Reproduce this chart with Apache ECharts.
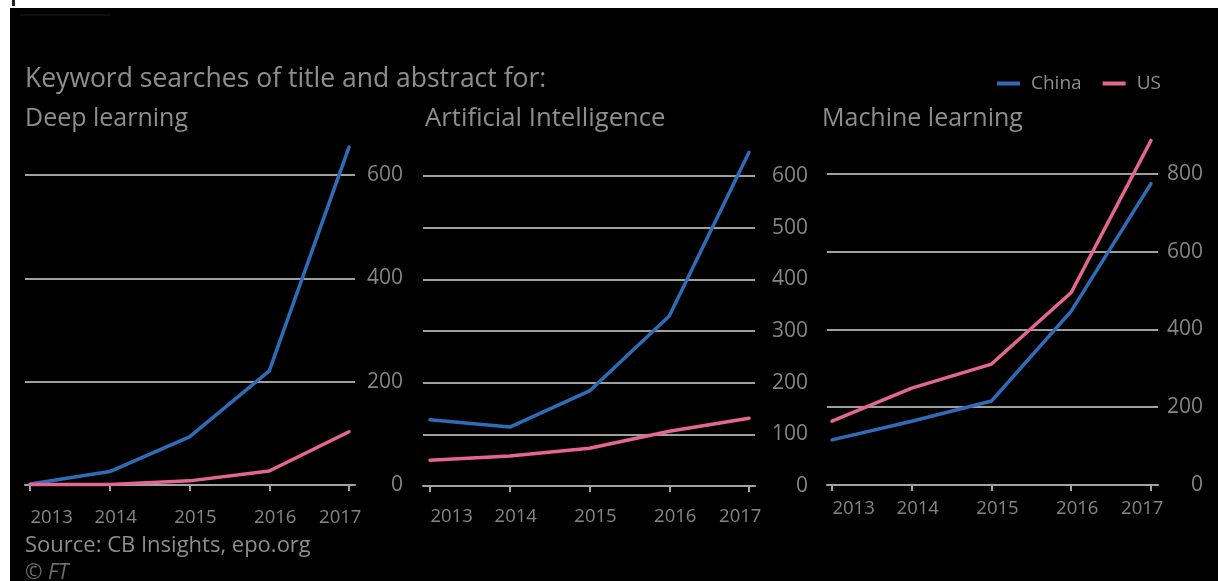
<!DOCTYPE html>
<html>
<head>
<meta charset="utf-8">
<script src="https://cdn.jsdelivr.net/npm/echarts@6/dist/echarts.min.js"></script>
<style>
  html, body { margin: 0; padding: 0; background: #fff; }
  #chart { width: 1218px; height: 581px; }
</style>
</head>
<body>
<div id="chart"></div>
<script>
// Years on the x axis
const years = [2013, 2014, 2015, 2016, 2017];

// Panel headings
const panelTitles = ['Deep learning', 'Artificial Intelligence', 'Machine learning'];

// Keyword hits per year, China vs US
const deepChina = [2, 26, 93, 221, 654];
const deepUS = [1, 1, 8, 27, 103];
const aiChina = [128, 114, 184, 329, 646];
const aiUS = [50, 58, 73, 106, 131];
const mlChina = [116, 164, 216, 447, 775];
const mlUS = [164, 249, 311, 495, 886];

// Y tick steps per panel
const deepTicks = [0, 200, 400, 600];
const aiTicks = [0, 100, 200, 300, 400, 500, 600];
const mlTicks = [0, 200, 400, 600, 800];

const FONT = '"Open Sans", "Noto Sans", sans-serif';
const TEXT = '#8e8e8e';
const TICKTEXT = '#858585';
const BLUE = '#2f6cb8';
const PINK = '#e5668f';

// small horizontal nudges so the year labels sit like the print layout
const labelNudge = [0.27, 0.075, 0.075, 0.075, -0.11];

const panels = [
  { title: panelTitles[0], china: deepChina, us: deepUS, ticks: deepTicks, max: 660,
    grid: { left: 25, width: 330, top: 144, height: 341 },
    xMin: 2012.937, xMax: 2017.075, labelMargin: 23, yMargin: 48, titleLeft: 25, titleSize: 25 },
  { title: panelTitles[1], china: aiChina, us: aiUS, ticks: aiTicks, max: 660,
    grid: { left: 423, width: 332, top: 145, height: 341 },
    xMin: 2012.912, xMax: 2017.075, labelMargin: 21, yMargin: 53, titleLeft: 425, titleSize: 25.7 },
  { title: panelTitles[2], china: mlChina, us: mlUS, ticks: mlTicks, max: 900,
    grid: { left: 827, width: 331, top: 135, height: 350 },
    xMin: 2012.937, xMax: 2017.088, labelMargin: 14, yMargin: 45, titleLeft: 822, titleSize: 25 }
];

const grids = [], xAxes = [], yAxes = [], series = [];
const titles = [{
  text: 'Keyword searches of title and abstract for:',
  left: 25, top: 66, padding: 0,
  textStyle: { fontFamily: FONT, fontSize: 26.5, fontWeight: 'normal', color: TEXT }
}];

panels.forEach((p, i) => {
  grids.push(Object.assign({ containLabel: false }, p.grid));
  titles.push({
    text: p.title, left: p.titleLeft, top: 106, padding: 0,
    textStyle: { fontFamily: FONT, fontSize: p.titleSize, fontWeight: 'normal', color: TEXT }
  });
  xAxes.push({
    type: 'value', gridIndex: i, min: p.xMin, max: p.xMax,
    axisLine: { show: true, lineStyle: { color: '#a3a3a3', width: 2 } },
    axisTick: { show: true, customValues: years, length: 6, lineStyle: { color: '#a3a3a3', width: 2 } },
    axisLabel: {
      customValues: years.map((y, k) => y + labelNudge[k]),
      formatter: v => String(Math.round(v)),
      margin: p.labelMargin, fontFamily: FONT, fontSize: 18.5, color: TICKTEXT
    },
    splitLine: { show: false }
  });
  yAxes.push({
    type: 'value', gridIndex: i, position: 'right', min: 0, max: p.max,
    interval: p.ticks[1] - p.ticks[0],
    axisLine: { show: false }, axisTick: { show: false },
    axisLabel: {
      align: 'right', margin: p.yMargin, showMaxLabel: false,
      fontFamily: FONT, fontSize: 21, color: TICKTEXT
    },
    splitLine: { show: true, showMinLine: false, showMaxLine: false,
      lineStyle: { color: '#d4d4d4', width: 1.5 } }
  });
  [['China', p.china, BLUE], ['US', p.us, PINK]].forEach(([name, vals, color]) => {
    series.push({
      name, type: 'line', xAxisIndex: i, yAxisIndex: i,
      data: years.map((y, k) => [y, vals[k]]),
      symbol: 'none', silent: true,
      lineStyle: { color, width: 3.5, join: 'round', cap: 'round' },
      itemStyle: { color }
    });
  });
});

titles.push({
  text: 'Source: CB Insights, epo.org', left: 25, top: 535, padding: 0,
  textStyle: { fontFamily: FONT, fontSize: 22, fontWeight: 'normal', color: TEXT }
});
titles.push({
  text: '© FT', left: 25, top: 563, padding: 0,
  textStyle: { fontFamily: FONT, fontSize: 21, fontWeight: 'normal', fontStyle: 'italic', color: '#6e6e6e' }
});

const chart = echarts.init(document.getElementById('chart'), null, { renderer: 'canvas' });
chart.setOption({
  backgroundColor: '#000',
  animation: false,
  title: titles,
  legend: {
    data: ['China', 'US'], left: 997, top: 74, padding: 0,
    icon: 'rect', itemWidth: 23, itemHeight: 4, itemGap: 21,
    textStyle: { fontFamily: FONT, fontSize: 19, color: TEXT, padding: [0, 0, 0, 6] }
  },
  grid: grids,
  xAxis: xAxes,
  yAxis: yAxes,
  series,
  graphic: [
    { type: 'rect', z: 100, shape: { x: 0, y: 0, width: 1218, height: 8 }, style: { fill: '#fff' } },
    { type: 'rect', z: 100, shape: { x: 0, y: 0, width: 10, height: 581 }, style: { fill: '#fff' } },
    { type: 'rect', z: 101, shape: { x: 12, y: 0, width: 3, height: 6 }, style: { fill: '#222' } },
    { type: 'rect', z: 100, shape: { x: 20, y: 14, width: 90, height: 2 }, style: { fill: '#0f0f0f' } }
  ]
});
</script>
</body>
</html>
